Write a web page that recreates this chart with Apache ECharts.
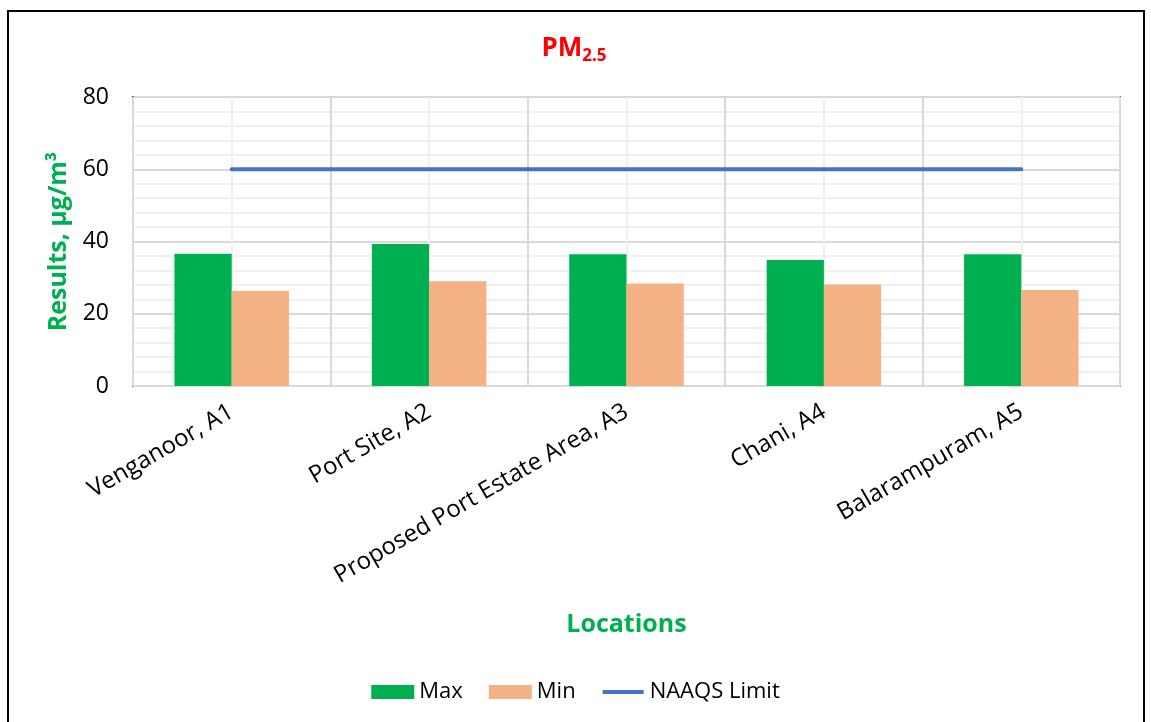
<!DOCTYPE html>
<html>
<head>
<meta charset="utf-8">
<script src="https://cdn.jsdelivr.net/npm/echarts@6/dist/echarts.min.js"></script>
<style>html,body{margin:0;padding:0;background:#fff}#c{width:1151px;height:722px}</style>
</head>
<body>
<div id="c"></div>
<script>
const categories = ['Venganoor, A1', 'Port Site, A2', 'Proposed Port Estate Area, A3', 'Chani, A4', 'Balarampuram, A5'];
const maxValues = [36.6, 39.3, 36.5, 34.9, 36.5];
const minValues = [26.3, 29.0, 28.4, 28.1, 26.6];
const naaqsLimit = [60, 60, 60, 60, 60];
const yTicks = [0, 20, 40, 60, 80];

const FONT = 'Open Sans';
const chart = echarts.init(document.getElementById('c'), null, {renderer: 'canvas'});
chart.setOption({
  animation: false,
  backgroundColor: '#fff',
  textStyle: {fontFamily: FONT},
  title: {
    text: '{a|PM}{b|2.5}',
    left: 569, top: 28, textAlign: 'center',
    textStyle: {
      rich: {
        a: {fontFamily: FONT, fontSize: 26, fontWeight: 'bold', color: '#FF0000'},
        b: {fontFamily: FONT, fontSize: 17, fontWeight: 'bold', color: '#FF0000', padding: [15, 0, 0, 0]}
      }
    }
  },
  legend: {
    bottom: 14, left: 'center',
    itemWidth: 43, itemHeight: 14, itemGap: 26,
    textStyle: {fontFamily: FONT, fontSize: 22, color: '#000'},
    data: [
      {name: 'Max', icon: 'rect'},
      {name: 'Min', icon: 'rect'},
      {name: 'NAAQS Limit', icon: 'path://M0,0L0.01,0L0,0.01Z M43,14L42.99,14L43,13.99Z M1,5 L42,5 L42,9 L1,9Z'}
    ]
  },
  graphic: [{
    type: 'rect', shape: {x: 8, y: 11, width: 1136, height: 730},
    style: {fill: 'none', stroke: '#000', lineWidth: 2}, z: 100
  }],
  grid: {left: 133, right: 31, top: 97, bottom: 336, show: true, borderColor: '#000', borderWidth: 1.5},
  xAxis: [{
    type: 'category', data: categories,
    axisLine: {show: true, lineStyle: {color: '#d9d9d9', width: 1.5}},
    axisTick: {show: false},
    splitLine: {show: true, lineStyle: {color: '#d9d9d9', width: 2}},
    axisLabel: {rotate: 30, margin: 24, fontFamily: FONT, fontSize: 24, color: '#000', interval: 0},
    name: 'Locations', nameLocation: 'middle', nameGap: 226,
    nameTextStyle: {fontFamily: FONT, fontSize: 25, fontWeight: 'bold', color: '#00B050'},
    z: 3
  }, {
    type: 'value', min: 0, max: 10, interval: 1, show: true, position: 'bottom',
    axisLine: {show: false}, axisTick: {show: false}, axisLabel: {show: false},
    splitLine: {show: true, lineStyle: {color: '#f0f0f0', width: 2}}, z: 1
  }],
  yAxis: {
    type: 'value', min: yTicks[0], max: yTicks[yTicks.length - 1], interval: 20,
    axisLine: {show: true, lineStyle: {color: '#000', width: 1.5}},
    axisTick: {show: false},
    axisLabel: {margin: 24, fontFamily: FONT, fontSize: 23, color: '#000'},
    splitLine: {show: true, lineStyle: {color: '#d9d9d9', width: 2}},
    minorTick: {show: false, splitNumber: 5},
    minorSplitLine: {show: true, lineStyle: {color: '#f0f0f0', width: 2}},
    name: 'Results, µg/m³', nameLocation: 'middle', nameGap: 62, nameRotate: 90,
    nameTextStyle: {fontFamily: FONT, fontSize: 25, fontWeight: 'bold', color: '#00B050'}
  },
  series: [
    {name: 'Max', type: 'bar', data: maxValues, barWidth: '29%', barGap: '0%', itemStyle: {color: '#00B050'}, z: 5},
    {name: 'Min', type: 'bar', data: minValues, barWidth: '29%', barGap: '0%', itemStyle: {color: '#F4B183'}, z: 5},
    {name: 'NAAQS Limit', type: 'line', data: naaqsLimit, showSymbol: false, symbol: 'none',
     lineStyle: {color: '#4472C4', width: 4, cap: 'round'}, itemStyle: {color: '#4472C4'}, z: 6}
  ]
});
</script>
</body>
</html>
